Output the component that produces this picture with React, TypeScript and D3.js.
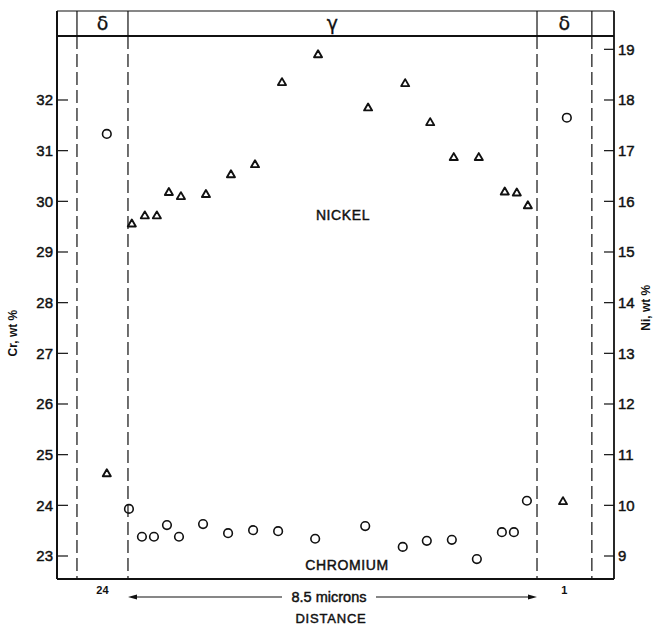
import React from "react";
import * as d3 from "d3";

// phase boundaries along the distance axis, microns (gamma band is 8.5 wide)
const phaseEdges = [-1.06, 0, 8.5, 9.64];
const phaseNames = ["δ", "γ", "δ"];
const deltaWidths = ["24", "1"];

const crTicks = [23, 24, 25, 26, 27, 28, 29, 30, 31, 32];
const niTicks = [9, 10, 11, 12, 13, 14, 15, 16, 17, 18, 19];

// chromium (circles), Cr wt %
const crDistance = [
  -0.44, 0.02, 0.29, 0.54, 0.81, 1.06, 1.56, 2.08, 2.6, 3.12, 3.89, 4.93,
  5.71, 6.21, 6.73, 7.25, 7.77, 8.02, 8.29, 9.12,
];
const crValues = [
  31.33, 23.93, 23.38, 23.38, 23.61, 23.38, 23.63, 23.45, 23.51, 23.49,
  23.34, 23.59, 23.18, 23.3, 23.32, 22.94, 23.47, 23.47, 24.09, 31.65,
];

// nickel (triangles), Ni wt %
const niDistance = [
  -0.44, 0.08, 0.35, 0.6, 0.85, 1.1, 1.62, 2.14, 2.64, 3.2, 3.95, 4.99,
  5.76, 6.28, 6.77, 7.29, 7.83, 8.08, 8.31, 9.04,
];
const niValues = [
  10.62, 15.55, 15.71, 15.71, 16.17, 16.09, 16.13, 16.52, 16.72, 18.34,
  18.89, 17.84, 18.32, 17.55, 16.86, 16.86, 16.18, 16.16, 15.91, 10.07,
];

const W = 657;
const H = 625;
const left = 57;
const right = 614;
const top = 36;
const bottom = 579;
const headTop = 11;
const font = "'Liberation Sans', Arial, sans-serif";
const ink = "#111";
// scanned text is a bit heavier than the regular face
const heavy = { stroke: ink, strokeWidth: 0.45, fill: ink };

export default function App() {
  const x = d3.scaleLinear().domain([-1.475, 10.1]).range([left, right]);
  const yCr = d3.scaleLinear().domain([22.546, 33.263]).range([bottom, top]);
  const yNi = d3.scaleLinear().domain([8.546, 19.263]).range([bottom, top]);

  const tri = d3.symbol(d3.symbolTriangle, 28)()!;
  const circ = d3.symbol(d3.symbolCircle, 58)()!;

  const gx0 = x(phaseEdges[1]);
  const gx1 = x(phaseEdges[2]);
  const arrowY = 597;

  return (
    <svg
      width={W}
      height={H}
      style={{ position: "absolute", left: 0, top: 0, background: "#fff" }}
      fontFamily={font}
    >
      {/* header band */}
      <line x1={left} x2={right} y1={headTop} y2={headTop} stroke={ink} strokeWidth={1.2} />
      <line x1={left} x2={right} y1={top} y2={top} stroke={ink} strokeWidth={2} />
      {phaseEdges.map((e) => (
        <line key={"h" + e} x1={x(e)} x2={x(e)} y1={headTop} y2={top} stroke={ink} strokeWidth={1.2} />
      ))}
      {phaseNames.map((n, i) => (
        <text
          key={"p" + i}
          x={(x(phaseEdges[i]) + x(phaseEdges[i + 1])) / 2}
          y={30}
          textAnchor="middle"
          fontSize={19}
          fontFamily="'DejaVu Sans', sans-serif"
          {...heavy}
          strokeWidth={0.3}
        >
          {n}
        </text>
      ))}

      {/* frame */}
      <line x1={left} x2={left} y1={headTop} y2={bottom} stroke={ink} strokeWidth={2} />
      <line x1={right} x2={right} y1={headTop} y2={bottom} stroke={ink} strokeWidth={1.8} />
      <line x1={left} x2={right} y1={bottom} y2={bottom} stroke={ink} strokeWidth={2} />

      {/* phase boundaries */}
      {phaseEdges.map((e) => (
        <line
          key={"d" + e}
          x1={x(e)}
          x2={x(e)}
          y1={top}
          y2={bottom}
          stroke={ink}
          strokeWidth={1.2}
          strokeDasharray="13,5"
        />
      ))}

      {/* left axis, Cr */}
      {crTicks.map((t) => (
        <g key={"c" + t} transform={`translate(${left},${yCr(t)})`}>
          <line x1={0} x2={11} stroke={ink} strokeWidth={1.2} />
          <text x={-4} dy="0.36em" textAnchor="end" fontSize={15} {...heavy}>
            {t}
          </text>
        </g>
      ))}
      <text
        transform={`translate(17,${yCr(27.4)}) rotate(-90)`}
        textAnchor="middle"
        fontSize={12}
        fontWeight="bold"
        fill={ink}
      >
        Cr, wt %
      </text>

      {/* right axis, Ni */}
      {niTicks.map((t) => (
        <g key={"n" + t} transform={`translate(${right},${yNi(t)})`}>
          <line x1={-10} x2={0} stroke={ink} strokeWidth={1.2} />
          <text x={4} dy="0.36em" textAnchor="start" fontSize={15} {...heavy}>
            {t}
          </text>
        </g>
      ))}
      <text
        transform={`translate(650,${yNi(13.9)}) rotate(-90)`}
        textAnchor="middle"
        fontSize={12}
        fontWeight="bold"
        fill={ink}
      >
        Ni, wt %
      </text>

      {/* nickel */}
      {niDistance.map((d, i) => (
        <path
          key={"t" + i}
          d={tri}
          transform={`translate(${x(d)},${yNi(niValues[i])})`}
          fill="none"
          stroke={ink}
          strokeWidth={1.9}
          strokeLinejoin="round"
        />
      ))}
      {/* chromium */}
      {crDistance.map((d, i) => (
        <path
          key={"o" + i}
          d={circ}
          transform={`translate(${x(d)},${yCr(crValues[i])})`}
          fill="none"
          stroke={ink}
          strokeWidth={1.6}
        />
      ))}

      <text x={343} y={220} textAnchor="middle" fontSize={14} letterSpacing={0.6} {...heavy}>
        NICKEL
      </text>
      <text x={347} y={570} textAnchor="middle" fontSize={14} letterSpacing={0.6} {...heavy}>
        CHROMIUM
      </text>

      {/* distance annotations */}
      {deltaWidths.map((w, i) => {
        const k = i === 0 ? 0 : 2;
        return (
          <text
            key={"w" + i}
            x={(x(phaseEdges[k]) + x(phaseEdges[k + 1])) / 2}
            y={594}
            textAnchor="middle"
            fontSize={11}
            fontWeight="bold"
            fill={ink}
          >
            {w}
          </text>
        );
      })}
      <line x1={gx0 + 6} x2={282} y1={arrowY} y2={arrowY} stroke={ink} strokeWidth={1.2} />
      <line x1={376} x2={gx1 - 6} y1={arrowY} y2={arrowY} stroke={ink} strokeWidth={1.2} />
      <path d={`M${gx0},${arrowY}l9,-2.5v5z`} fill={ink} />
      <path d={`M${gx1},${arrowY}l-9,-2.5v5z`} fill={ink} />
      <text x={329} y={602} textAnchor="middle" fontSize={14.5} {...heavy}>
        8.5 microns
      </text>
      <text x={331} y={623} textAnchor="middle" fontSize={13} letterSpacing={0.8} {...heavy}>
        DISTANCE
      </text>
    </svg>
  );
}
